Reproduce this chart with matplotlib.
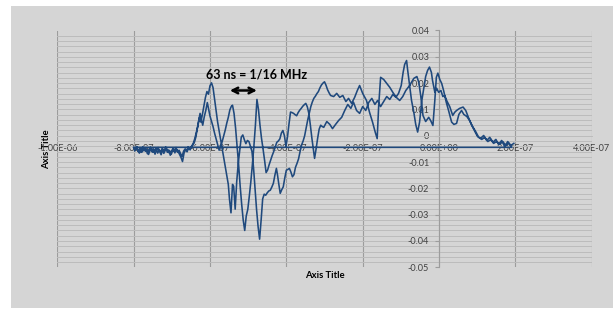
import matplotlib
matplotlib.use("Agg")
import matplotlib.pyplot as plt
from matplotlib.patches import Rectangle
from matplotlib.ticker import MultipleLocator, FixedLocator

# ---- data (time in ns, signal in V) ----
# first sweep
t_a_ns = [-800, -796, -792, -788, -784, -780, -776, -772, -768, -764, -760, -756, -752, -748,
          -744, -740, -736, -732, -728, -724, -720, -716, -712, -708, -704, -700, -696, -692,
          -688, -684, -680, -676, -672, -668, -664, -660, -656, -652, -648,
          -644, -640, -636, -632, -628, -624, -620, -616, -612, -608, -604, -600, -596, -592,
          -588, -584, -580, -576, -572, -568, -564, -560, -556, -552, -549, -545, -541, -538,
          -534, -530, -526, -522, -518, -514, -510, -506, -502, -498, -494, -490, -486, -482,
          -478, -474, -470, -466, -462, -458, -454, -450, -446, -442, -438, -434, -430, -426,
          -423, -420, -416, -412, -408, -404, -400, -396, -392, -388, -384, -380, -376, -372,
          -368, -364, -360, -356, -352, -348, -344, -340, -336, -332, -328, -324, -320, -316,
          -312, -308, -304, -300, -296, -292, -288, -284,
          -276, -268, -260, -252, -244, -237, -229, -221, -214, -208, -200, -190, -182, -174,
          -167, -162, -158, -153, -145, -137, -129, -121, -112, -103, -95, -87, -77, -66, -58,
          -53, -48, -42, -35, -27, -22, -16, -11, -7, -3, 2, 7, 12, 19, 25, 33, 39, 46, 52,
          59, 65, 73, 80, 88, 96, 104, 112, 120, 128, 136, 143, 151, 159, 167, 175, 183, 191]
v_a = [-0.0045, -0.0052, -0.0041, -0.0060, -0.0048, -0.0063, -0.0043, -0.0056, -0.0049, -0.0068,
       -0.0052, -0.0044, -0.0061, -0.0050, -0.0070, -0.0053, -0.0045, -0.0060, -0.0072, -0.0051,
       -0.0058, -0.0043, -0.0062, -0.0054, -0.0074, -0.0056, -0.0047, -0.0065, -0.0051, -0.0059,
       -0.0070, -0.0082, -0.0098, -0.0066, -0.0053, -0.0061, -0.0047, -0.0054, -0.0039,
       -0.0030, -0.0012, 0.0012, 0.0035, 0.0068, 0.0052, 0.0080, 0.0112, 0.0145, 0.0168,
       0.0158, 0.0190, 0.0201, 0.0183, 0.0140, 0.0095, 0.0052, 0.0018, -0.0015, -0.0048,
       -0.0085, -0.0118, -0.0150, -0.0185, -0.0240, -0.0293, -0.0185, -0.0192, -0.0279,
       -0.0175, -0.0105, -0.0055, -0.0005, 0.0003, -0.0015, -0.0030, -0.0018, -0.0022,
       -0.0040, -0.0060, -0.0120, -0.0200, -0.0280, -0.0345, -0.0393, -0.0320, -0.0240,
       -0.0222, -0.0226, -0.0217, -0.0210, -0.0207, -0.0195, -0.0181, -0.0150, -0.0124,
       -0.0150, -0.0181, -0.0219, -0.0205, -0.0194, -0.0160, -0.0131, -0.0128, -0.0124,
       -0.0138, -0.0156, -0.0148, -0.0120, -0.0105,
       -0.0088, -0.0060, -0.0035, -0.0020, 0.0000, 0.0030, 0.0060, 0.0085, 0.0110, 0.0128,
       0.0142, 0.0150, 0.0160, 0.0168, 0.0182, 0.0193, 0.0200, 0.0205, 0.0192, 0.0175,
       0.0163, 0.0153,
       0.0149, 0.0161, 0.0146, 0.0153, 0.0130, 0.0142, 0.0123, 0.0146, 0.0172, 0.0191,
       0.0161, 0.0134, 0.0089, 0.0051, 0.0013, -0.0011, 0.0115, 0.0222, 0.0214, 0.0199,
       0.0184, 0.0165, 0.0146, 0.0134, 0.0149, 0.0172, 0.0191, 0.0218, 0.0225, 0.0203,
       0.0153, 0.0077, 0.0054, 0.0070, 0.0058, 0.0039, 0.0134, 0.0222, 0.0238, 0.0214,
       0.0199, 0.0172, 0.0127, 0.0096, 0.0052, 0.0043, 0.0047, 0.0081, 0.0096, 0.0081,
       0.0073, 0.0058, 0.0035, 0.0016, -0.0006, -0.0014, -0.0006, -0.0022, -0.0014,
       -0.0029, -0.0022, -0.0033, -0.0022, -0.0037, -0.0029, -0.0044]

# second sweep
t_b_ns = [-800, -797, -793, -789, -785, -781, -777, -773, -769, -765, -761, -757, -753, -749,
          -745, -741, -737, -733, -729, -725, -721, -717, -713, -709, -705, -701, -697, -693,
          -689, -685, -681, -677, -673, -669, -665, -661, -657, -653, -649,
          -645, -641, -637, -633, -629, -626, -622, -619, -615, -611, -607, -603, -600, -596,
          -592, -588, -584, -580, -576, -572, -568, -564, -560, -556, -552, -548, -544, -541,
          -537, -533, -529, -525, -521, -517, -513, -509, -505, -501, -497, -493, -489, -485,
          -481, -477, -473, -469, -465, -461, -457, -453, -449, -445, -441, -437, -433, -429,
          -425, -421, -417, -413, -409, -405, -401, -397, -393, -389, -385, -381, -377, -373,
          -369, -365, -361, -357, -353, -349, -345, -341, -337, -333, -329, -326, -322, -318,
          -314, -310, -306, -302,
          -294, -286, -279, -271, -263, -255, -247, -239, -231, -224, -216, -208, -200, -192,
          -184, -176, -168, -161, -153, -145, -137, -129, -121, -113, -106, -99, -94, -90, -85,
          -82, -77, -72, -66, -61, -56, -51, -45, -40, -35, -30, -25, -20, -17, -11, -6, -1,
          5, 10, 15, 20, 28, 36, 41, 46, 54, 63, 70, 78, 86, 94, 101, 109, 117, 125, 133,
          141, 149, 156, 164, 172, 180, 188, 196]
v_b = [-0.0044, -0.0058, -0.0047, -0.0055, -0.0066, -0.0050, -0.0061, -0.0045, -0.0059, -0.0052,
       -0.0071, -0.0056, -0.0048, -0.0063, -0.0055, -0.0047, -0.0066, -0.0054, -0.0060, -0.0048,
       -0.0067, -0.0055, -0.0050, -0.0064, -0.0058, -0.0069, -0.0052, -0.0060, -0.0045, -0.0063,
       -0.0055, -0.0068, -0.0078, -0.0058, -0.0050, -0.0057, -0.0042, -0.0050, -0.0044,
       -0.0036, -0.0025, -0.0005, 0.0030, 0.0062, 0.0085, 0.0058, 0.0040, 0.0072, 0.0096,
       0.0126, 0.0098, 0.0075, 0.0055, 0.0035, 0.0010, -0.0012, -0.0035, -0.0055, -0.0040,
       -0.0022, 0.0000, 0.0022, 0.0048, 0.0070, 0.0098, 0.0112, 0.0116, 0.0085, 0.0030,
       -0.0040, -0.0110, -0.0190, -0.0260, -0.0320, -0.0360, -0.0305, -0.0280, -0.0230,
       -0.0175, -0.0110, -0.0040, 0.0040, 0.0138, 0.0100, 0.0040, -0.0010, -0.0050, -0.0093,
       -0.0140, -0.0130, -0.0110, -0.0092, -0.0075, -0.0060, -0.0042, -0.0025, -0.0020,
       -0.0012, 0.0010, 0.0020, 0.0000, -0.0040, -0.0005, 0.0045, 0.0090, 0.0088, 0.0085,
       0.0080, 0.0076, 0.0088, 0.0097, 0.0104, 0.0112, 0.0118, 0.0123, 0.0110, 0.0085,
       0.0040, -0.0010, -0.0055, -0.0086, -0.0050, -0.0010, 0.0025, 0.0040, 0.0035, 0.0032,
       0.0054, 0.0043, 0.0027, 0.0043, 0.0058, 0.0070, 0.0096, 0.0119, 0.0104, 0.0127,
       0.0096, 0.0085, 0.0111, 0.0096, 0.0127, 0.0142, 0.0119, 0.0134, 0.0111, 0.0130,
       0.0149, 0.0138, 0.0157, 0.0146, 0.0161, 0.0191, 0.0241, 0.0271, 0.0286, 0.0248,
       0.0191, 0.0134, 0.0089, 0.0043, 0.0014, 0.0051, 0.0134, 0.0180, 0.0225, 0.0248,
       0.0261, 0.0241, 0.0210, 0.0166, 0.0180, 0.0165, 0.0172, 0.0149, 0.0153, 0.0134,
       0.0111, 0.0077, 0.0089, 0.0096, 0.0104, 0.0109, 0.0096, 0.0066, 0.0039, 0.0016,
       -0.0003, -0.0010, 0.0001, -0.0018, -0.0006, -0.0025, -0.0014, -0.0033, -0.0018,
       -0.0041, -0.0022, -0.0037, -0.0029]

x_ticks = [-1.0e-6, -8.0e-7, -6.0e-7, -4.0e-7, -2.0e-7, 0.0, 2.0e-7, 4.0e-7]
x_tick_labels = ["-1.00E-06", "-8.00E-07", "-6.00E-07", "-4.00E-07", "-2.00E-07",
                 "0.00E+00", "2.00E-07", "4.00E-07"]
y_ticks = [0.04, 0.03, 0.02, 0.01, 0.0, -0.01, -0.02, -0.03, -0.04, -0.05]
y_tick_labels = ["0.04", "0.03", "0.02", "0.01", "0", "-0.01", "-0.02", "-0.03", "-0.04", "-0.05"]
annotation_text = "63 ns = 1/16 MHz"
arrow_ns = [-548, -477]
arrow_level = 0.0172
label_pos = (-478e-9, 0.0233)

# one series: sweep A followed by sweep B
xs = [t * 1e-9 for t in t_a_ns + t_b_ns]
ys = v_a + v_b

plt.rcParams['font.family'] = ['Lato', 'DejaVu Sans']

fig = plt.figure(figsize=(6.13, 3.09), dpi=100)
fig.patch.set_facecolor('white')
bg = Rectangle((11 / 613, 1 - 308 / 309), (613 - 11) / 613, (308 - 6) / 309,
               transform=fig.transFigure, facecolor='#d5d5d5', edgecolor='none', zorder=-10)
fig.add_artist(bg)

ax = fig.add_axes([57.3 / 613, 1 - 267.3 / 309, (591.7 - 57.3) / 613, (267.3 - 30.5) / 309])
ax.set_zorder(5)
ax.set_facecolor('none')
ax.set_xlim(-1e-6, 4e-7)
ax.set_ylim(-0.05, 0.04)

# gridlines
ax.yaxis.set_minor_locator(MultipleLocator(0.002))
ax.grid(which='minor', axis='y', color='#bcbcbc', lw=0.7)
ax.grid(which='major', axis='y', color='#bcbcbc', lw=0.7)
ax.grid(which='major', axis='x', color='#9c9c9c', lw=0.8)
ax.set_axisbelow(True)

for s in ['top', 'right']:
    ax.spines[s].set_visible(False)
ax.spines['left'].set_position(('data', 0))
ax.spines['bottom'].set_position(('data', 0))
ax.spines['left'].set_color('#9c9c9c')
ax.spines['bottom'].set_color('#bcbcbc')
ax.spines['left'].set_linewidth(0.8)
ax.spines['bottom'].set_linewidth(0.7)

ax.xaxis.set_major_locator(FixedLocator(x_ticks))
ax.set_xticklabels(x_tick_labels)
ax.yaxis.set_major_locator(FixedLocator(y_ticks))
ax.set_yticklabels(y_tick_labels)
ax.tick_params(axis='x', length=0, pad=6.2, labelsize=6.6, labelcolor='#404040')
ax.tick_params(axis='y', which='major', length=3, direction='out', color='#9c9c9c',
               pad=4, labelsize=6.6, labelcolor='#404040')
ax.tick_params(axis='y', which='minor', length=0)

ax.plot(xs, ys, color='#1f497d', lw=1.15, zorder=3)

# annotation
ax.text(label_pos[0], label_pos[1], annotation_text, ha='center', va='center',
        fontsize=9, fontweight='bold', color='black', zorder=4)
ax.annotate('', xy=(arrow_ns[1] * 1e-9, arrow_level), xytext=(arrow_ns[0] * 1e-9, arrow_level),
            arrowprops=dict(arrowstyle='<->', lw=1.8, color='black', mutation_scale=10,
                            shrinkA=0, shrinkB=0), zorder=4)

# axis titles
fig.text(324.5 / 613, 1 - 275 / 309, "Axis Title", ha='center', va='center',
         fontsize=6.8, fontweight='bold', color='black')
fig.text(46.7 / 613, 1 - 148.9 / 309, "Axis Title", ha='center', va='center',
         rotation=90, fontsize=6.8, fontweight='bold', color='black')

fig.savefig('out.png', dpi=100)
